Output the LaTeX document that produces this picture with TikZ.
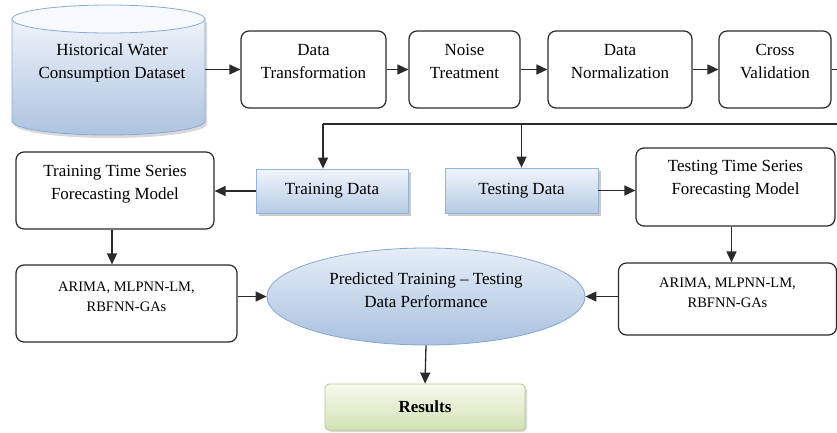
\documentclass[tikz,border=0pt]{standalone}
\usepackage{fontspec}
\setmainfont{Liberation Serif}
\usetikzlibrary{arrows.meta,shapes.geometric,shadows}
\definecolor{cylTop}{HTML}{EEF3FA}
\definecolor{cylBot}{HTML}{ADC3DF}
\definecolor{cylCap}{HTML}{F7FAFD}
\definecolor{cylBorder}{HTML}{8DA9D2}
\definecolor{dTop}{HTML}{F0F5FB}
\definecolor{dBot}{HTML}{B6CAE4}
\definecolor{dBorder}{HTML}{95B3D7}
\definecolor{eTop}{HTML}{E6EEF7}
\definecolor{eBot}{HTML}{A9C1DF}
\definecolor{eBorder}{HTML}{86A6D2}
\definecolor{gTop}{HTML}{F5F9EE}
\definecolor{gBot}{HTML}{D2E3B4}
\definecolor{gBorder}{HTML}{B3CB8C}
\definecolor{ink}{HTML}{2A2A2A}
\begin{document}
\begin{tikzpicture}[x=1pt,y=-1pt,
  line/.style={draw=ink, line width=1.3pt},
  arr/.style={line, -{Triangle[length=11pt,width=10pt]}},
  box/.style={draw=ink, line width=1.2pt, rounded corners=8pt, fill=white, inner sep=0pt},
  databox/.style={draw=dBorder, line width=0.8pt, top color=dTop, bottom color=dBot, inner sep=0pt,
    drop shadow={shadow xshift=3pt, shadow yshift=-3pt, fill=black!35, opacity=0.6},
    font=\fontsize{17}{23}\selectfont},
  txt/.style={align=center, font=\fontsize{17}{23}\selectfont, inner sep=0pt},
  small/.style={align=center, font=\fontsize{14.5}{20}\selectfont, inner sep=0pt},
]
\useasboundingbox (0,0) rectangle (837,432);
\clip (0,0) rectangle (837,432);

% cylinder
\fill[black!15] (14,22) -- (14,124) arc[start angle=180, end angle=0, x radius=96.5, y radius=14] -- (207,22) -- cycle;
\path[top color=cylTop, bottom color=cylBot, draw=cylBorder, line width=0.8pt]
  (12,19) -- (12,121) arc[start angle=180, end angle=0, x radius=96.5, y radius=14] -- (205,19) -- cycle;
\path[fill=cylCap, draw=cylBorder, line width=0.8pt] (108.5,19) ellipse[x radius=96.5, y radius=14];
\node[minimum width=193pt, minimum height=60pt, inner sep=0pt] (cyl) at (108.5,69.5) {};
\node[txt] (cylT) at (112,62.5) {Historical Water\\Consumption Dataset};

% top row
\node[box, minimum width=145pt, minimum height=77pt] (dt) at (313.5,69.5) {};
\node[txt] (dtT) at (313.5,61.5) {Data\\Transformation};
\node[box, minimum width=111pt, minimum height=77pt] (nt) at (464.5,69.5) {};
\node[txt] (ntT) at (464.5,61.5) {Noise\\Treatment};
\node[box, minimum width=144pt, minimum height=77pt] (dn) at (620,69.5) {};
\node[txt] (dnT) at (620,61.5) {Data\\Normalization};
\node[box, minimum width=112pt, minimum height=77pt] (cv) at (775,69.5) {};
\node[txt] (cvT) at (775,61.5) {Cross\\Validation};

% data boxes
\node[databox, minimum width=152pt, minimum height=44pt] (trd) at (332,191) {Training Data};
\node[databox, minimum width=153pt, minimum height=45pt] (ted) at (521.5,190.5) {Testing Data};

% model boxes
\node[box, minimum width=198pt, minimum height=77pt] (trm) at (115,190.5) {};
\node[txt] (trmT) at (115,184) {Training Time Series\\Forecasting Model};
\node[box, minimum width=199pt, minimum height=78pt] (tem) at (735.5,187) {};
\node[txt] (temT) at (735.5,179) {Testing Time Series\\Forecasting Model};

% method boxes
\node[box, minimum width=221pt, minimum height=77pt] (arL) at (126.5,303.5) {};
\node[small] (arLT) at (126.5,297) {ARIMA, MLPNN-LM,\\RBFNN-GAs};
\node[box, minimum width=218pt, minimum height=72pt] (arR) at (727.5,299) {};
\node[small] (arRT) at (727.5,292.5) {ARIMA, MLPNN-LM,\\RBFNN-GAs};

% ellipse
\node[ellipse, draw=eBorder, line width=0.8pt, top color=eTop, bottom color=eBot,
  minimum width=318pt, minimum height=97pt, inner sep=0pt] (pred) at (426,296.5) {};
\node[txt] (predT) at (426,290) {Predicted Training -- Testing\\Data Performance};

% results
\node[draw=gBorder, line width=0.8pt, rounded corners=4pt, top color=gTop, bottom color=gBot,
  minimum width=200pt, minimum height=46pt, inner sep=0pt,
  drop shadow={shadow xshift=2pt, shadow yshift=-2pt, fill=black!30, opacity=0.5},
  font=\bfseries\fontsize{17}{23}\selectfont] (res) at (425,407) {Results};

% connectors
\draw[arr] (cyl.east) -- (dt.west);
\draw[arr] (dt.east) -- (nt.west);
\draw[arr] (nt.east) -- (dn.west);
\draw[arr] (dn.east) -- (cv.west);
\coordinate (cr) at (840,124);
\coordinate (jl) at (323,124);
\draw[line] (cv.east) -| (cr) -- (jl);
\draw[arr] (jl) -- (jl |- trd.north);
\draw[arr] (ted.north |- jl) -- (ted.north);
\draw[arr] (trd.west) -- (trm.east |- trd.west);
\draw[arr] (ted.east) -- (tem.west |- ted.east);
\draw[arr] ([xshift=-3pt]trm.south) -- ([xshift=-3pt]trm.south |- arL.north);
\draw[arr] ([xshift=-4pt]tem.south) -- ([xshift=-4pt]tem.south |- arR.north);
\draw[arr] (arL.east |- pred.west) -- (pred.west);
\draw[arr] (arR.west |- pred.east) -- (pred.east);
\draw[arr] (pred.south) -- (res.north);
\end{tikzpicture}
\end{document}
